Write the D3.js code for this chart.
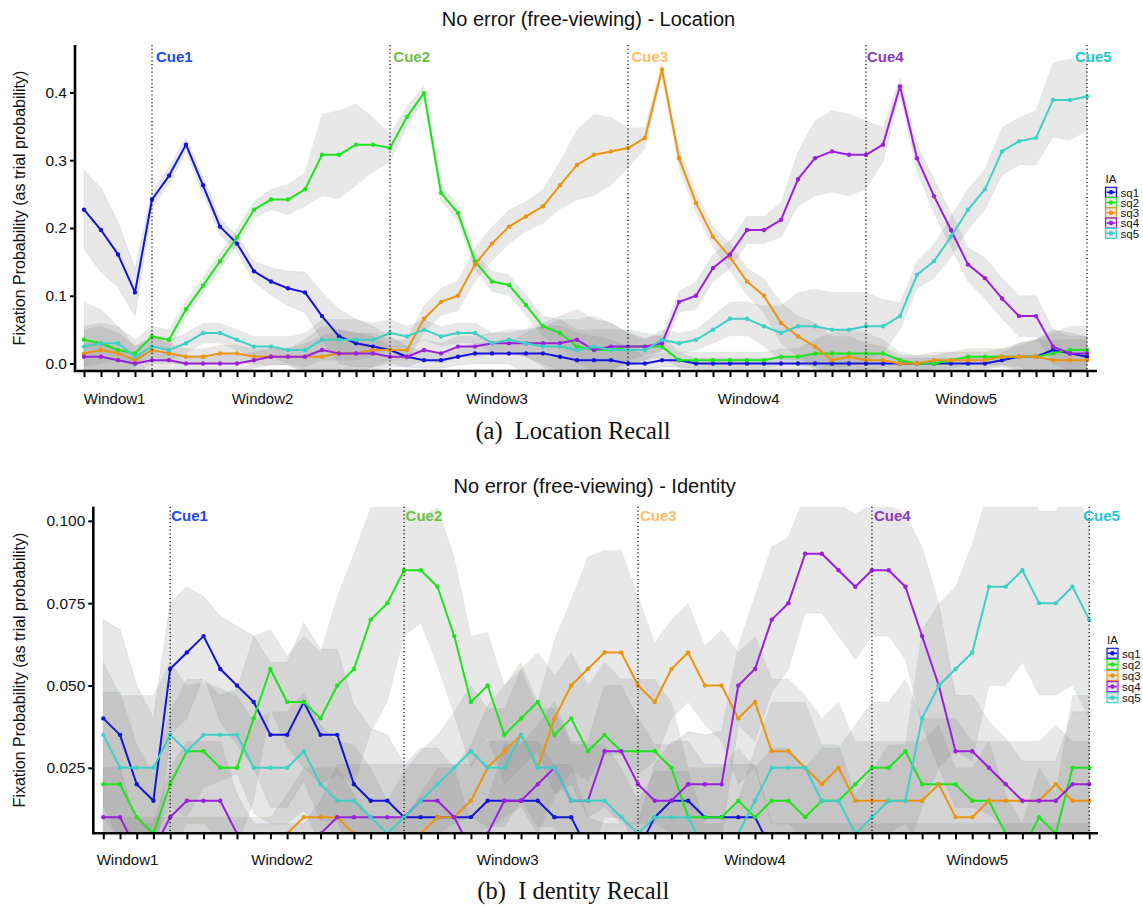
<!DOCTYPE html>
<html>
<head>
<meta charset="utf-8">
<script src="https://cdn.jsdelivr.net/npm/d3@7"></script>
<style>
  body { margin: 0; background: #fff; }
  text { font-family: "Liberation Sans", Arial, sans-serif; }
</style>
</head>
<body>
<div id="chart"></div>
<script>
// ---- data ----
const seriesNames = ["sq1", "sq2", "sq3", "sq4", "sq5"];
const seriesColors = ["#1414d8", "#1ee31e", "#e99512", "#9a21dc", "#3fcfc6"];
const cueNames = ["Cue1", "Cue2", "Cue3", "Cue4", "Cue5"];
const cueColors = ["#2248f2", "#6cc046", "#ffbd6c", "#8a3cc0", "#1fc6cf"];
const cueIndex = [4, 18, 32, 46, 59];
const windowNames = ["Window1", "Window2", "Window3", "Window4", "Window5"];
const windowPosLoc = [1.8, 10.5, 24.3, 39.1, 51.9];
const windowPosId = [1.45, 10.7, 24.2, 39.0, 52.3];
const locTicks = [0, 0.1, 0.2, 0.3, 0.4];
const idTicks = [0.025, 0.05, 0.075, 0.1];

// Location recall: fixation probability per time bin, and CI half-widths
const locSq1 = [0.227,0.197,0.161,0.105,0.242,0.277,0.323,0.263,0.202,0.177,0.136,0.121,0.111,0.105,0.070,0.040,0.030,0.025,0.020,0.010,0.005,0.005,0.010,0.015,0.015,0.015,0.015,0.015,0.010,0.005,0.005,0.005,0,0,0.005,0.005,0,0,0,0,0,0,0,0,0,0,0,0,0,0,0,0,0,0,0.005,0.010,0.010,0.020,0.015,0.010];
const locSq2 = [0.035,0.030,0.020,0.015,0.040,0.035,0.080,0.115,0.151,0.186,0.227,0.242,0.242,0.257,0.308,0.308,0.323,0.323,0.318,0.364,0.399,0.252,0.222,0.151,0.121,0.116,0.086,0.055,0.045,0.025,0.020,0.020,0.025,0.025,0.025,0.005,0.005,0.005,0.005,0.005,0.005,0.010,0.010,0.015,0.015,0.015,0.015,0.015,0.005,0,0,0.005,0.010,0.010,0.010,0.010,0.010,0.015,0.020,0.020];
const locSq3 = [0.015,0.020,0.015,0.005,0.020,0.015,0.010,0.010,0.015,0.015,0.010,0.010,0.010,0.010,0.010,0.015,0.015,0.020,0.020,0.020,0.066,0.091,0.100,0.146,0.177,0.202,0.217,0.232,0.263,0.293,0.308,0.313,0.318,0.333,0.434,0.303,0.237,0.187,0.157,0.121,0.100,0.060,0.040,0.025,0.005,0.010,0.005,0.005,0,0,0.005,0.005,0.005,0.005,0.010,0.010,0.010,0.005,0.005,0.005];
const locSq4 = [0.010,0.010,0.005,0,0.005,0.005,0,0,0,0,0.005,0.010,0.010,0.010,0.020,0.015,0.015,0.015,0.010,0.010,0.020,0.015,0.025,0.025,0.030,0.030,0.030,0.030,0.030,0.035,0.020,0.025,0.025,0.025,0.030,0.091,0.100,0.141,0.161,0.197,0.197,0.212,0.272,0.303,0.313,0.308,0.308,0.323,0.409,0.303,0.247,0.197,0.146,0.126,0.096,0.070,0.070,0.025,0.015,0.015];
const locSq5 = [0.025,0.030,0.030,0.010,0.025,0.020,0.030,0.045,0.045,0.035,0.025,0.025,0.020,0.020,0.035,0.035,0.035,0.035,0.045,0.040,0.050,0.040,0.045,0.045,0.030,0.035,0.030,0.025,0.025,0.020,0.025,0.020,0.020,0.020,0.035,0.030,0.035,0.050,0.066,0.066,0.055,0.045,0.055,0.055,0.050,0.050,0.055,0.055,0.070,0.131,0.151,0.187,0.227,0.257,0.313,0.328,0.333,0.389,0.389,0.394];
const locCi1 = [0.058,0.062,0.048,0.035,0.012,0.012,0.01,0.012,0.012,0.012,0.015,0.02,0.025,0.03,0.035,0.04,0.035,0.03,0.02,0.015,0.012,0.012,0.012,0.015,0.015,0.015,0.03,0.04,0.045,0.04,0.035,0.03,0.025,0.01,0.01,0.01,0.008,0.008,0.008,0.008,0.008,0.008,0.008,0.015,0.015,0.015,0.015,0.015,0.008,0.008,0.008,0.008,0.008,0.008,0.01,0.02,0.025,0.03,0.03,0.03];
const locCi2 = [0.055,0.05,0.035,0.02,0.015,0.015,0.012,0.012,0.012,0.012,0.012,0.015,0.022,0.025,0.06,0.065,0.06,0.04,0.02,0.015,0.01,0.012,0.012,0.012,0.015,0.015,0.015,0.015,0.02,0.025,0.03,0.03,0.025,0.02,0.015,0.012,0.012,0.012,0.012,0.012,0.012,0.012,0.012,0.02,0.03,0.035,0.03,0.02,0.012,0.012,0.012,0.012,0.012,0.012,0.012,0.015,0.025,0.03,0.035,0.035];
const locCi3 = [0.035,0.035,0.03,0.02,0.02,0.015,0.012,0.012,0.012,0.012,0.012,0.012,0.012,0.02,0.03,0.035,0.03,0.025,0.015,0.015,0.02,0.02,0.022,0.025,0.025,0.025,0.022,0.025,0.035,0.052,0.06,0.05,0.03,0.015,0.01,0.015,0.015,0.015,0.02,0.02,0.025,0.03,0.03,0.035,0.035,0.03,0.025,0.02,0.012,0.012,0.012,0.012,0.012,0.012,0.012,0.02,0.025,0.03,0.03,0.03];
const locCi4 = [0.02,0.02,0.015,0.012,0.012,0.012,0.012,0.012,0.012,0.012,0.012,0.012,0.012,0.025,0.035,0.035,0.03,0.025,0.015,0.015,0.015,0.015,0.015,0.015,0.015,0.015,0.02,0.03,0.04,0.045,0.045,0.035,0.02,0.012,0.012,0.015,0.02,0.02,0.02,0.02,0.02,0.025,0.04,0.055,0.06,0.06,0.05,0.025,0.012,0.02,0.025,0.025,0.025,0.03,0.03,0.03,0.03,0.025,0.025,0.025];
const locCi5 = [0.03,0.03,0.025,0.015,0.015,0.015,0.015,0.015,0.015,0.015,0.015,0.015,0.02,0.025,0.03,0.03,0.03,0.025,0.02,0.015,0.015,0.015,0.015,0.015,0.015,0.015,0.02,0.03,0.04,0.045,0.045,0.04,0.025,0.015,0.015,0.015,0.015,0.02,0.025,0.025,0.03,0.04,0.05,0.055,0.055,0.055,0.05,0.04,0.02,0.02,0.025,0.03,0.03,0.03,0.035,0.035,0.04,0.055,0.06,0.05];

// Identity recall
const idSq1 = [0.040,0.035,0.020,0.015,0.055,0.060,0.065,0.055,0.050,0.045,0.035,0.035,0.045,0.035,0.035,0.020,0.015,0.015,0.010,0.010,0.010,0.010,0.010,0.015,0.015,0.015,0.015,0.010,0.010,0,0,0,0,0.010,0.015,0.015,0.010,0.010,0.010,0.010,0,0,0,0,0,0,0,0,0,0,0,0,0,0,0,0,0,0,0,0];
const idSq2 = [0.020,0.020,0.010,0.005,0.020,0.030,0.030,0.025,0.025,0.040,0.055,0.045,0.045,0.040,0.050,0.055,0.070,0.075,0.085,0.085,0.080,0.065,0.045,0.050,0.035,0.040,0.045,0.035,0.040,0.030,0.035,0.030,0.030,0.030,0.025,0.010,0.010,0.010,0.015,0.010,0.015,0.015,0.010,0.015,0.015,0.020,0.025,0.025,0.030,0.020,0.020,0.020,0.015,0.015,0.005,0,0.010,0.005,0.025,0.025];
const idSq3 = [0,0,0,0,0,0,0,0,0,0,0,0.005,0.010,0.010,0.010,0.005,0,0,0,0.005,0.010,0.010,0.015,0.025,0.030,0.035,0.025,0.040,0.050,0.055,0.060,0.060,0.050,0.045,0.055,0.060,0.050,0.050,0.040,0.045,0.030,0.030,0.025,0.020,0.025,0.015,0.015,0.015,0.015,0.015,0.020,0.010,0.010,0.015,0.015,0.015,0.015,0.020,0.015,0.015];
const idSq4 = [0.010,0.010,0,0,0.010,0.015,0.015,0.015,0.005,0,0,0,0,0.005,0.010,0.010,0.010,0.010,0.010,0.015,0.015,0.010,0,0.005,0.015,0.015,0.020,0.025,0.015,0.015,0.030,0.030,0.020,0.015,0.015,0.020,0.020,0.020,0.050,0.055,0.070,0.075,0.090,0.090,0.085,0.080,0.085,0.085,0.080,0.065,0.050,0.030,0.030,0.025,0.020,0.015,0.015,0.015,0.020,0.020];
const idSq5 = [0.035,0.025,0.025,0.025,0.035,0.030,0.035,0.035,0.035,0.025,0.025,0.025,0.030,0.020,0.015,0.015,0.010,0.005,0.010,0.015,0.020,0.025,0.030,0.025,0.025,0.035,0.025,0.025,0.015,0.015,0.015,0.010,0.005,0.010,0.010,0.010,0,0,0.005,0.015,0.025,0.025,0.025,0.015,0.015,0.005,0.010,0.015,0.015,0.040,0.050,0.055,0.060,0.080,0.080,0.085,0.075,0.075,0.080,0.070];
const idCi1 = [0.03,0.032,0.03,0.025,0.02,0.02,0.012,0.016,0.018,0.02,0.022,0.022,0.024,0.026,0.026,0.024,0.022,0.02,0.016,0.016,0.016,0.016,0.016,0.018,0.018,0.018,0.018,0.016,0.016,0.01,0.008,0.008,0.008,0.016,0.018,0.018,0.016,0.016,0.016,0.016,0.008,0.008,0.008,0.008,0.008,0.008,0.008,0.008,0.008,0.008,0.008,0.008,0.008,0.008,0.008,0.008,0.008,0.008,0.008,0.008];
const idCi2 = [0.028,0.028,0.022,0.018,0.022,0.022,0.022,0.022,0.024,0.025,0.012,0.014,0.02,0.02,0.027,0.035,0.034,0.03,0.02,0.016,0.024,0.024,0.02,0.016,0.015,0.015,0.015,0.018,0.02,0.02,0.022,0.022,0.022,0.022,0.02,0.015,0.015,0.015,0.016,0.015,0.016,0.016,0.015,0.016,0.016,0.018,0.02,0.02,0.022,0.02,0.02,0.02,0.018,0.018,0.012,0.008,0.015,0.012,0.022,0.022];
const idCi3 = [0.01,0.01,0.01,0.01,0.01,0.01,0.01,0.01,0.01,0.01,0.01,0.012,0.015,0.015,0.015,0.012,0.01,0.01,0.01,0.012,0.015,0.015,0.017,0.019,0.02,0.022,0.02,0.024,0.026,0.034,0.031,0.031,0.027,0.018,0.015,0.015,0.012,0.017,0.02,0.02,0.022,0.022,0.022,0.02,0.02,0.018,0.018,0.018,0.018,0.018,0.018,0.015,0.015,0.018,0.018,0.018,0.018,0.018,0.018,0.018];
const idCi4 = [0.015,0.015,0.008,0.008,0.015,0.018,0.018,0.018,0.012,0.008,0.008,0.008,0.008,0.01,0.016,0.016,0.016,0.016,0.016,0.016,0.016,0.015,0.008,0.01,0.017,0.017,0.018,0.02,0.018,0.018,0.02,0.02,0.02,0.017,0.017,0.016,0.015,0.016,0.012,0.022,0.022,0.02,0.018,0.018,0.02,0.022,0.02,0.02,0.022,0.027,0.025,0.017,0.017,0.014,0.014,0.012,0.012,0.012,0.022,0.022];
const idCi5 = [0.022,0.022,0.022,0.022,0.022,0.02,0.016,0.014,0.012,0.014,0.017,0.017,0.018,0.018,0.018,0.017,0.015,0.01,0.014,0.015,0.015,0.017,0.02,0.018,0.018,0.02,0.018,0.018,0.017,0.017,0.017,0.015,0.01,0.014,0.014,0.014,0.008,0.008,0.01,0.016,0.02,0.02,0.02,0.017,0.017,0.012,0.014,0.017,0.017,0.027,0.025,0.025,0.033,0.03,0.03,0.028,0.028,0.028,0.03,0.03];

// ---- drawing ----
const svg = d3.select("#chart").append("svg")
    .attr("width", 1143)
    .attr("height", 907)
    .style("display", "block");

function drawPanel(cfg) {
    const g = svg.append("g");
    const x = d3.scaleLinear().domain([0, 59]).range([cfg.x0, cfg.x59]);
    const y = d3.scaleLinear().domain(cfg.yDomain).range([cfg.bottom, cfg.top]);

    // title
    svg.append("text")
        .attr("x", cfg.titleX).attr("y", cfg.titleY)
        .attr("text-anchor", "middle")
        .style("font-size", "20px").attr("fill", "#111")
        .text(cfg.title);

    const clipId = "clip-" + cfg.key;
    svg.append("clipPath").attr("id", clipId)
        .append("rect")
        .attr("x", cfg.left).attr("y", cfg.top)
        .attr("width", cfg.right - cfg.left).attr("height", cfg.bottom - cfg.top);

    const plot = g.append("g").attr("clip-path", `url(#${clipId})`);
    const data = cfg.values.map((vals, k) => vals.map((v, i) => ({ i, v, ci: cfg.cis[k][i] })));

    // confidence ribbons
    const area = d3.area()
        .x(d => x(d.i))
        .y0(d => y(d.v - d.ci))
        .y1(d => y(d.v + d.ci));
    plot.selectAll(".ribbon")
        .data(data)
        .enter()
        .append("path")
        .attr("class", "ribbon")
        .attr("d", area)
        .attr("fill", "#7f7f7f")
        .attr("fill-opacity", 0.18)
        .attr("stroke", (d, k) => seriesColors[k])
        .attr("stroke-opacity", 0.08)
        .attr("stroke-width", 1);

    // cue lines
    g.selectAll(".cue")
        .data(cueIndex)
        .enter()
        .append("line")
        .attr("x1", d => x(d)).attr("x2", d => x(d))
        .attr("y1", cfg.top).attr("y2", cfg.bottom)
        .attr("stroke", "#000")
        .attr("stroke-width", 1.2)
        .attr("stroke-dasharray", "1.2,2.6");

    g.selectAll(".cue-label")
        .data(cueIndex)
        .enter()
        .append("text")
        .attr("x", (d, k) => x(d) + cfg.cueDx[k])
        .attr("y", cfg.cueY)
        .style("font-size", "15px")
        .style("font-weight", "bold")
        .attr("fill", (d, k) => cueColors[k])
        .text((d, k) => cueNames[k]);

    // lines and points
    const line = d3.line().x(d => x(d.i)).y(d => y(d.v));
    data.forEach((pts, k) => {
        plot.append("path")
            .attr("d", line(pts))
            .attr("fill", "none")
            .attr("stroke", seriesColors[k])
            .attr("stroke-width", 2)
            .attr("stroke-linejoin", "round");
        plot.selectAll(null)
            .data(pts)
            .enter()
            .append("circle")
            .attr("cx", d => x(d.i))
            .attr("cy", d => y(d.v))
            .attr("r", 2.2)
            .attr("fill", seriesColors[k]);
    });

    // axes
    const xAxis = d3.axisBottom(x).tickValues(d3.range(60)).tickSize(6).tickFormat("");
    const xg = g.append("g")
        .attr("transform", `translate(0,${cfg.bottom})`)
        .call(xAxis);
    xg.select(".domain").remove();
    xg.selectAll(".tick line").attr("stroke", "#000").attr("stroke-width", 2);

    const yAxis = d3.axisLeft(y).tickValues(cfg.ticks).tickSize(5).tickFormat(d3.format(cfg.fmt));
    const yg = g.append("g")
        .attr("transform", `translate(${cfg.left},0)`)
        .call(yAxis);
    yg.select(".domain").remove();
    yg.selectAll(".tick line").attr("stroke", "#000").attr("stroke-width", 2);
    yg.selectAll(".tick text")
        .attr("x", -8)
        .style("font-size", "15.5px")
        .style("font-family", "\"Liberation Sans\", Arial, sans-serif")
        .attr("fill", "#111");

    g.append("path")
        .attr("d", `M${cfg.left},${cfg.top}V${cfg.bottom}H${cfg.right}`)
        .attr("fill", "none")
        .attr("stroke", "#000")
        .attr("stroke-width", 2.6);

    // window labels
    g.selectAll(".win")
        .data(cfg.windowPos)
        .enter()
        .append("text")
        .attr("x", d => x(d))
        .attr("y", cfg.windowY)
        .attr("text-anchor", "middle")
        .style("font-size", "15px")
        .attr("fill", "#111")
        .text((d, k) => windowNames[k]);

    // y title
    g.append("text")
        .attr("transform", `translate(25,${(cfg.top + cfg.bottom) / 2}) rotate(-90)`)
        .attr("text-anchor", "middle")
        .style("font-size", "16px")
        .attr("fill", "#111")
        .text("Fixation Probability (as trial probability)");

    // legend
    const lg = g.append("g");
    lg.append("text")
        .attr("x", cfg.legendX).attr("y", cfg.legendY - 9)
        .style("font-size", "11.5px").attr("fill", "#111")
        .text("IA");
    seriesNames.forEach((name, k) => {
        const cy = cfg.legendY + k * cfg.legendStep;
        lg.append("rect")
            .attr("x", cfg.legendX).attr("y", cy - 5)
            .attr("width", 11).attr("height", 10)
            .attr("fill", "#e6e6e6")
            .attr("stroke", seriesColors[k]).attr("stroke-width", 1.2);
        lg.append("line")
            .attr("x1", cfg.legendX + 1).attr("x2", cfg.legendX + 10)
            .attr("y1", cy).attr("y2", cy)
            .attr("stroke", seriesColors[k]).attr("stroke-width", 1.6);
        lg.append("circle")
            .attr("cx", cfg.legendX + 5.5).attr("cy", cy).attr("r", 2.2)
            .attr("fill", seriesColors[k]);
        lg.append("text")
            .attr("x", cfg.legendX + 15).attr("y", cy + 4.2)
            .style("font-size", "11.5px").attr("fill", "#111")
            .text(name);
    });

    // caption
    svg.append("text")
        .attr("x", cfg.captionX).attr("y", cfg.captionY)
        .attr("text-anchor", "middle")
        .style("font-family", "\"Liberation Serif\", \"Times New Roman\", serif")
        .style("font-size", cfg.captionSize + "px")
        .attr("fill", "#111")
        .text(cfg.caption);
}

drawPanel({
    key: "loc",
    title: "No error (free-viewing) - Location",
    titleX: 588.5, titleY: 26,
    left: 75, right: 1097, top: 45, bottom: 371,
    x0: 84, x59: 1087,
    yDomain: [-0.011, 0.470],
    ticks: locTicks, fmt: ".1f",
    values: [locSq1, locSq2, locSq3, locSq4, locSq5],
    cis: [locCi1, locCi2, locCi3, locCi4, locCi5],
    cueY: 62, cueDx: [4, 3.3, 3.4, 1, -12],
    windowPos: windowPosLoc, windowY: 404,
    legendX: 1105.5, legendY: 192.3, legendStep: 10.25,
    caption: "(a)\u2002Location Recall", captionX: 573, captionY: 439, captionSize: 24.5
});

drawPanel({
    key: "id",
    title: "No error (free-viewing) - Identity",
    titleX: 594.7, titleY: 492.7,
    left: 93.3, right: 1098, top: 506.7, bottom: 833.3,
    x0: 103.3, x59: 1089.2,
    yDomain: [0.0051, 0.1043],
    ticks: idTicks, fmt: ".3f",
    values: [idSq1, idSq2, idSq3, idSq4, idSq5],
    cis: [idCi1, idCi2, idCi3, idCi4, idCi5],
    cueY: 521, cueDx: [1, 1.5, 2, 2, -6],
    windowPos: windowPosId, windowY: 865,
    legendX: 1107, legendY: 653.3, legendStep: 11.1,
    caption: "(b)\u2002I dentity Recall", captionX: 573.3, captionY: 899, captionSize: 24.5
});
</script>
</body>
</html>
